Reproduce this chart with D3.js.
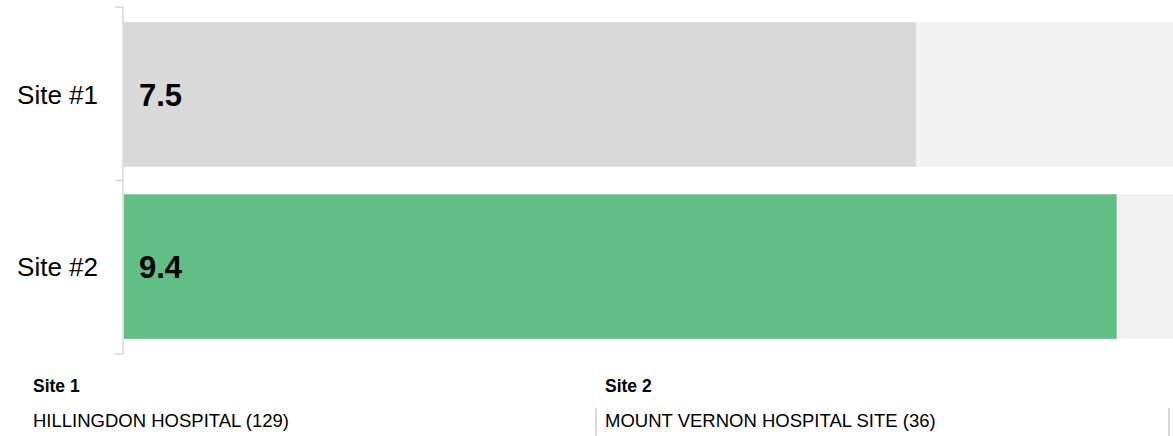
<!DOCTYPE html>
<html>
<head>
<meta charset="utf-8">
<script src="https://cdn.jsdelivr.net/npm/d3@7"></script>
<style>
  html, body { margin: 0; padding: 0; background: #fff; overflow: hidden; }
  svg { display: block; font-family: "Liberation Sans", Arial, sans-serif; }
</style>
</head>
<body>
<svg id="chart" width="1173" height="436"></svg>
<script>
// Scores per site (out of 10)
const categories = ["Site #1", "Site #2"];
const values = [7.5, 9.4];
const maxValue = 10;
const barColors = ["#d9d9d9", "#61be85"];

// Footer key
const siteHeadings = ["Site 1", "Site 2"];
const siteNames = ["HILLINGDON HOSPITAL (129)", "MOUNT VERNON HOSPITAL SITE (36)"];

const svg = d3.select("#chart");

const x = d3.scaleLinear().domain([0, maxValue]).range([124, 1180]);
const y = d3.scaleBand().domain(categories).range([7, 354])
  .paddingInner(0.16).paddingOuter(0.088);

// Track behind each bar showing the full scale
svg.append("g").selectAll("rect")
  .data(categories)
  .join("rect")
  .attr("x", x(0))
  .attr("y", d => y(d))
  .attr("width", x(maxValue) - x(0))
  .attr("height", y.bandwidth())
  .attr("fill", "#f1f1f1");

// Value bars
svg.append("g").selectAll("rect")
  .data(values)
  .join("rect")
  .attr("x", x(0))
  .attr("y", (d, i) => y(categories[i]))
  .attr("width", d => x(d) - x(0))
  .attr("height", y.bandwidth())
  .attr("fill", (d, i) => barColors[i]);

// Value labels inside bars
svg.append("g").selectAll("text")
  .data(values)
  .join("text")
  .attr("x", x(0) + 15)
  .attr("y", (d, i) => y(categories[i]) + y.bandwidth() / 2)
  .attr("dy", "0.38em")
  .attr("font-size", 31)
  .attr("font-weight", "bold")
  .attr("fill", "#000")
  .text(d => d.toFixed(1));

// Category axis with ticks on band edges
const axisX = 123;
const bandEdges = d3.range(categories.length + 1).map(i => 7 + i * 173.5);
const axisG = svg.append("g");
axisG.append("line")
  .attr("x1", axisX).attr("x2", axisX)
  .attr("y1", bandEdges[0]).attr("y2", bandEdges[bandEdges.length - 1])
  .attr("stroke", "#d6d6d6").attr("stroke-width", 1.5);
axisG.selectAll("line.tick")
  .data(bandEdges)
  .join("line")
  .attr("class", "tick")
  .attr("x1", axisX - 8).attr("x2", axisX)
  .attr("y1", d => d).attr("y2", d => d)
  .attr("stroke", "#d6d6d6").attr("stroke-width", 1.5);
axisG.selectAll("text")
  .data(categories)
  .join("text")
  .attr("x", 98)
  .attr("y", d => y(d) + y.bandwidth() / 2)
  .attr("dy", "0.36em")
  .attr("text-anchor", "end")
  .attr("font-size", 26)
  .attr("fill", "#000")
  .text(d => d);

// Footer key
const colStart = [33, 605];
const footer = svg.append("g");
footer.selectAll("text.head")
  .data(siteHeadings)
  .join("text")
  .attr("class", "head")
  .attr("x", (d, i) => colStart[i])
  .attr("y", 392)
  .attr("font-size", 17.5)
  .attr("font-weight", "bold")
  .text(d => d);
footer.selectAll("text.name")
  .data(siteNames)
  .join("text")
  .attr("class", "name")
  .attr("x", (d, i) => colStart[i])
  .attr("y", 427)
  .attr("font-size", 18.5)
  .text(d => d);
footer.selectAll("line")
  .data([596, 1169])
  .join("line")
  .attr("x1", d => d).attr("x2", d => d)
  .attr("y1", 408).attr("y2", 436)
  .attr("stroke", "#cccccc").attr("stroke-width", 1.5);
</script>
</body>
</html>
